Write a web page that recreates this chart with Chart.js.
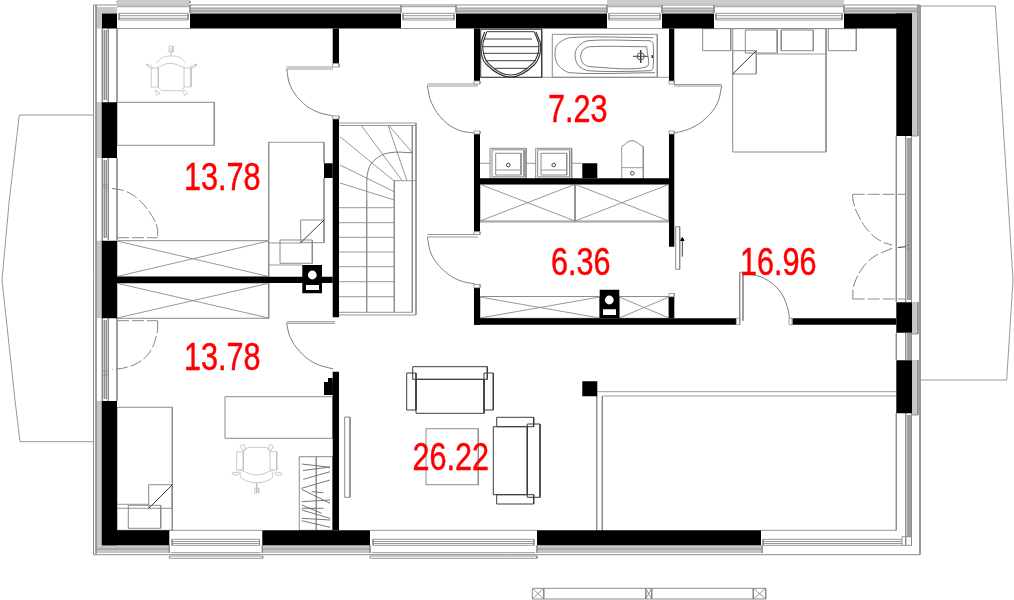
<!DOCTYPE html>
<html><head><meta charset="utf-8">
<style>html,body{margin:0;padding:0;background:#fff}canvas{display:block}</style>
<script src="https://cdn.jsdelivr.net/npm/chart.js@4"></script>
</head><body><canvas id="c" width="1014" height="600"></canvas>
<script>
// ---- data, in plan units (x right, y down) ----
const areaLabels=["13.78","13.78","7.23","6.36","16.96","26.22"];
const areaLabelX=[184,184,548,551,740,412.5];
const areaLabelY=[190,370,121.7,275,275,470];

const blackWalls=[
 [102,13.5,117,28.5],[456,13.5,607,28.5],[662,13.5,714,28.5],[844,13.5,912,28.5],
 [190,13.5,401,28.5],[896.3,13.5,912,136],[896.3,302.3,912,332.7],[896.3,360.3,912,413.3],
 [102,102.3,117,158],[102,240.7,117,318.3],[102,401,117,545.3],
 [102,530.3,169.3,545.3],[262.3,530.3,370,545.3],[537,530.3,761,545.3],
 [332.7,28.5,339,63.5],[332.7,119,339,317.3],[324,163.3,332.7,178],
 [332.7,371.7,339,530.3],[328,378,332.7,395],[324,382,332.7,395],
 [117,276.7,332.7,283],[302.3,265,322,293.3],
 [474,28.5,480,81],[474,134,480,231.7],[669,28.5,674.3,81],[669,134,674.3,246.7],
 [480,178.3,669,184.3],[582.3,163.3,597.3,178.3],
 [474,287.7,480,324.7],[474,318.3,736.3,324.7],[792.3,318.3,896.3,324.7],[669,296.7,674.3,318.3],
 [599.7,289.7,619.3,318.3],[582.3,381.3,597.3,396.3]
];
const whiteSlots=[[306,285,319,290],[603,309.3,616,315]];
const whiteHoleX=[312.3,609.3];
const whiteHoleY=[275,300];
const greyBands=[
 [96,7,102,545],[96,7,117,13.5],[190,8,401,13],[456,8,607,13],[662,8,714,13],[844,8,918,13],
 [912,8,918,136],[912,302,918,334],[912,360,918,415],
 [96,545.3,169,553],[262.3,545.3,370,553],[537,545.3,761,553]
];
const whiteBandGaps=[[96,28.5,102,102],[96,158,102,240.7],[96,318.3,102,401]];

const greyRects=[
 [93.5,5,920,554.7],
 [117,102.3,214.3,145.3],[117,240.7,268.7,276.7],[117,283,268.7,318.3],
 [280,240,312.3,263.3],[300.7,220,324,242.7],
 [702.7,28.7,730.7,50.7],[828.3,28.7,856.3,50.7],[745.3,30,777.3,53],[781.3,30,813.3,50.7],
 [732.7,28.7,826,152],[732.7,50.7,756.3,74],
 [117,407.3,172.3,530.3],[128.3,505.3,160.7,528.3],[148.7,484.7,172.3,508.3],
 [225,396.7,332.7,438.3],[299.3,456.7,332.7,530.3],
 [552.3,34.3,657.3,77.3],[490,148.3,526,178.3],[492,149.8,524,176.8],[495.7,153.3,521,175],
 [535.7,148.3,571.7,178.3],[537.7,149.8,569.7,176.8],[541,153.3,566.7,175],
 [480,184.3,575,221],[575,184.3,669,221],[480,296.5,599.7,318.3],[619.3,296.5,669,318.3],
 [675.7,226.7,679.7,269.3],[344.7,417,350,497.3],[426,428.7,478.3,484.7],
 [532.3,588.3,543.7,599],[543.7,588.3,645.7,599],[645.7,588.3,651.7,599],[651.7,588.3,753.3,599],[753.3,588.3,765.7,599]
];
const darkRects=[
 [480.7,29.3,541.7,77.3],
 [412.7,366.7,487.3,379.3],[416,379.3,484,413.3],[406.7,373,416,410],[484,373,493.3,410],
 [527.3,424,540,497.3],[493.3,426.7,527.3,494.7],[496.7,417.3,533.7,426.7],[496.7,494.7,533.7,504]
];
const greyLines=[
 [92.7,115,19.3,115,9.3,200,2,280,15,400,20,441.7,93,441.7],
 [920,6,995.3,6,1008,200,1013,280,1006.7,380,920,380],
 // interior wall faces and window frames
 [117,28.5,117,102],[117,158,117,240],[117,318,117,401],
 [896.3,136,896.3,302],[896.3,333,896.3,360],[896.3,413,896.3,530.3,761,530.3],
 [102.3,28.5,102.3,102],[104.3,30,104.3,100],[106.3,30,106.3,100],[108.3,28.5,108.3,102],
 [102.3,158,102.3,240],[104.3,160,104.3,238],[106.3,160,106.3,238],[108.3,158,108.3,240],
 [102.3,318,102.3,401],[104.3,320,104.3,399],[106.3,320,106.3,399],[108.3,318,108.3,401],
 [96,5,96,554],[102,102,102,158],[102,240,102,318],[102,401,102,545],
 [905.7,136,905.7,302],[908,138,908,300],[910,138,910,300],[911.5,136,911.5,302],
 [905.7,333,905.7,360],[908,333,908,360],[910,333,910,360],[911.5,333,911.5,360],
 [905.7,413,905.7,537],[908,415,908,537],[910,415,910,537],[911.5,413,911.5,545],
 [902,536.7,911.5,536.7,911.5,545.3,902,545.3,902,536.7],[905.7,536.7,905.7,545.3],
 [918,5,918,136],[918,302,918,334],[918,360,918,415],[912,136,918,136],[912,334,918,334],[912,415,918,415],
 [905.7,245,911.5,245],[905.7,249,911.5,249],[102.3,185,108.3,185],[102.3,188,108.3,188],[102.3,371,108.3,371],[102.3,375,108.3,375],
 // top windows
 [117,28.5,190,28.5],[119,13.3,188,13.3],[119,15.7,188,15.7],[119,18.3,188,18.3],[119,20,188,20],[117,6.7,190,6.7],[117,1,190,1,190,3,117,3,117,1],
 [401,28.5,456,28.5],[403,13.3,454,13.3],[403,15.7,454,15.7],[403,18.3,454,18.3],[403,20,454,20],[401,6.7,456,6.7],
 [607,28.5,662,28.5],[609,13.3,660,13.3],[609,15.7,660,15.7],[609,18.3,660,18.3],[609,20,660,20],[607,6.7,662,6.7],
 [714,28.5,844,28.5],[716,13.3,842,13.3],[716,15.7,842,15.7],[716,18.3,842,18.3],[716,20,842,20],[714,6.7,844,6.7],[607,1,844,1],[607,3,844,3],
 [119,13.3,119,20],[188,13.3,188,20],[403,13.3,403,20],[454,13.3,454,20],[609,13.3,609,20],[660,13.3,660,20],[716,13.3,716,20],[842,13.3,842,20],
 [190,5,190,13],[401,5,401,13],[456,5,456,13],[607,5,607,13],[662,5,662,13],[714,5,714,13],[844,5,844,13],
 [190,8,401,8],[456,8,607,8],[662,8,714,8],[844,8,918,8],[190,11,401,11],[456,11,607,11],[662,11,714,11],[844,11,918,11],
 // bottom windows
 [169.3,530.3,262.3,530.3],[172,539.3,259.5,539.3],[172,541.5,259.5,541.5],[172,543.5,259.5,543.5],[172,545.3,259.5,545.3],[171,552.7,260.5,552.7],[169.3,556,262.7,556,262.7,558.3,169.3,558.3,169.3,556],
 [370,530.3,537,530.3],[373,539.3,534,539.3],[373,541.5,534,541.5],[373,543.5,534,543.5],[373,545.3,534,545.3],[372,552.7,535,552.7],[370,556,537,556,537,558.3,370,558.3,370,556],
 [763,539.3,902,539.3],[763,541.5,902,541.5],[763,543.5,902,543.5],[763,545.3,902,545.3],[763,539.3,763,545.3],[762,545.3,762,553],
 [172,539.3,172,545.3],[259.5,539.3,259.5,545.3],[373,539.3,373,545.3],[534,539.3,534,545.3],[169.3,545.3,169.3,553],[262.3,545.3,262.3,553],[370,545.3,370,553],[537,545.3,537,553],
 [96,549,169,549],[262.3,549,370,549],[537,549,761,549],
 // door leaves
 [286.7,67,333,67],[286.7,69,333,69],[286.7,321.7,335,321.7],[286.7,323.3,335,323.3],
 [427.3,84,478,84],[427.3,86,478,86],[674,84.5,721.7,84.5],[674,86,721.7,86],
 [427.3,234.5,478,234.5],[427.3,237,478,237],[739.7,272.3,739.7,320.7],[743,272.3,743,320.7],[739.7,272.3,750,272.3],
 // stairs
 [339,123,416,123],[339,125.5,416,125.5],[412.3,125.5,412.3,312.3],[416,123,416,315],[339,312.3,412.3,312.3],[339,315,416,315],
 [394.3,180.7,416,180.7],[394.3,180.7,394.3,312.3],[366.7,200,366.7,312.3],
 [339,207.7,394.3,207.7],[339,222.7,394.3,222.7],[339,237.3,394.3,237.3],[339,252,394.3,252],[339,266.7,394.3,266.7],[339,281.7,394.3,281.7],[339,296.7,394.3,296.7],
 [340,136.7,395,181.7],[361.7,126,401.7,180],[388.3,126,406.7,180],[389.3,126,412.3,152.7],[340,165,394.3,191.7],[340,183,394.3,200],
 // wardrobes and closets
 [117,241,268.7,276.5],[117,276.5,268.7,241],[117,283.3,268.7,318],[117,318,268.7,283.3],
 [268.7,142.3,268.7,240],[268.7,142.3,324,142.3,324,163],[324,178,324,220],[268.7,243,300.7,243],[268.7,265,302.3,265],
 [480,184.3,575,221],[480,221,575,184.3],[575,184.3,669,221],[575,221,669,184.3],[480,222,669,222],
 [480,297,599.7,318],[480,318,599.7,297],[619.3,297,669,318],[619.3,318,669,297],
 // bath, counters, toilet, bed and rest
 [480,77.3,669,77.3],[480,163.3,490,163.3],[526,163.3,535.7,163.3],[571.7,163.3,582.3,163.3],[495.7,170,521,170],[541,170,566.7,170],
 [621.7,178.3,621.7,146.7],[643.3,146.7,643.3,178.3],[621.7,167.7,643.3,167.7],[756.3,54,826,54],
 [117,504.3,148.7,504.3],[117,508.3,148.7,508.3],[777.3,30,777.3,50.7],[781.3,30,781.3,50.7],
 [532.3,588.3,543.7,599],[532.3,599,543.7,588.3],[645.7,588.3,651.7,599],[645.7,599,651.7,588.3],[753.3,588.3,765.7,599],[753.3,599,765.7,588.3],
 [596.7,396,596.7,530.3],[602.3,396,602.3,530.3],[597.3,391.7,896.3,391.7],[602.3,396,896.3,396],[316.3,456.7,316.3,530.3]
];
const darkLines=[
 [300.7,242.7,324,220],[732.7,74,756.3,50.7],[148.7,508.3,172.3,484.7],
 [484,39,532,39],[483,46.7,539,46.7],[483,53.3,539,53.3],[486,60.7,536,60.7],[495,68.3,527,68.3],[487,31.7,534,31.7],
 [633,56.3,648,56.3],[640.7,50,640.7,63],[682.3,256.7,682.3,240],[652.3,55,652.3,58],
 [898,247.5,905.7,246.7]
];
const shoeStrokes=[
 [301.7,464,330,467.3],[303,470.5,330,467],[303.3,479.3,330,471.7],[301.7,488.3,330,480],[301.7,489.3,330,503.3],
 [311.7,491.7,323.3,492.7],[301.7,501.7,330,500],[301.7,505,321.7,513.3],[301.7,508.3,323.3,508.3],
 [301.7,510,330,518.3],[301.7,518.3,330,520],[301.7,520.7,330,527.3]
];
const lightLines=[
 // first chair
 [151.3,68,158.3,68,158.3,87,151.3,87,151.3,68],[184,68,191,68,191,87,184,87,184,68],
 [158.3,87,161.7,90.7,181.7,90.7,184,87],[171,56,171,48],[169,46,173,46,173,52,169,52,169,46],
 [146,64,152,66],[146,64,148,67,153,68],[190,67,196.7,64,196,66,190,69],[155,90,160,93,157,95.5,155,90],[184,90,187.5,93,185,95.5,183,92,184,90],
 // second chair
 [236.7,451.7,243.3,451.7,243.3,470,236.7,470,236.7,451.7],[270,451.7,276.7,451.7,276.7,470,270,470,270,451.7],
 [243.3,451.7,248.3,447.3,266.7,447.3,270,451.7],[256.7,483,256.7,493],[254.7,488,258.7,488,258.7,493,254.7,493,254.7,488],
 [232,473,239,472,238,475,233,475,232,473],[275,472,282,473,281,475.5,276,475,275,472],
 [240,446,244,444.5,246,449,243,450.5,240,446],[268,449,270,444.5,273.5,446,271,450.5,268,449]
];
const curvedLines=[
 [286.7,69,290,85,300,100,315,111,333,116],[286.7,323.3,290,336.7,300,351.7,315,363.3,333.3,369],
 [427.3,86,431.7,103.3,443.3,120,458.3,130,475,133.3],[721.7,86,717.3,103.3,705.7,118.3,690.7,128.3,674,133.3],
 [427.3,237.3,431.7,255,443.3,270,458.3,280,475,284],[747.3,273.3,764,278.3,779,290,787.3,306.7,789.7,320],
 [412.3,152.7,390,152.7,376.7,158.3,368.3,170,366.7,200],
 [621.7,146.7,631.7,140.7,643.3,146.7]
];
const tubeLines=[
 [653,37.7,570,37.7,557,45,555,55,558,65,570,72.7,655,72.7],
 [650,40.7,588,40.7,578,46.7,575,55,578,65,588,70.7,650,70.7,653,68,653,43,650,40.7],
 [646.7,46.7,590,46.7,583,50,580.7,56.7,583,63.3,590,66.7,646.7,66.7,646.7,46.7]
];
const showerRim=[[486.7,31.7,482.7,46.7,488.3,63.3,510.7,75,532.7,63.3,539,46.7,534.3,31.7],[484.5,32,480.8,47,486.5,64.5,510.7,77,534.5,64.5,540.8,47,536,32]];
const lightCurves=[
 [155.7,63.3,163.3,57.3,171,56,180,57.3,186,63.3],[156.7,68,170,63.3,185,68],
 [240,471.7,241.7,478.3,256.7,482.7,271.7,478.3,272.7,471.7],[240,470,256.7,475,273.3,470]
];
const dashedLines=[[117,237.7,157.7,237.7],[117,320.7,157.7,320.7],[852.7,194.3,905.7,194.3],[852.7,299,905.7,299]];
const dashedCurves=[
 [112,188.5,125,191,138,199,150,213,157,227,157.7,238],
 [157.7,321,157,333,150,351.7,138,362.7,125,367.7,112,369.5],
 [852.7,194.3,853,200,857.3,213.3,869,231.7,882,241.7,892,245],
 [892,248.3,874,256.7,862.3,268.3,854,285,852.7,299]
];
const drainX=[508.3,553.7,632.3];
const drainY=[165,165,173.3];
const tapX=[640.7];
const tapY=[56.3];
const arrowX=[682.3];
const arrowY=[239.5];
const jambs=[[332.7,63.5,339,67],[332.7,116,339,119],[474,81,480,84],[474,131,480,134],[669,81,674.3,84],[669,131,674.3,134],
 [474,231.7,480,234.5],[474,284.5,480,287.7],[669,293.5,674.3,296.7],[736.3,318.3,739.7,324.7],[789,318.3,792.3,324.7]];

// ---- drawing through the library's scales ----
const pts=f=>{const o=[];for(let i=0;i<f.length;i+=2)o.push({x:f[i],y:f[i+1]});return o;};
const box=r=>pts([r[0],r[1],r[2],r[1],r[2],r[3],r[0],r[3],r[0],r[1]]);
const line=(f,color,width,extra)=>Object.assign({data:pts(f),borderColor:color,borderWidth:width,showLine:true,pointRadius:0,fill:false,tension:0},extra||{});
const solid=(r,color)=>({data:box(r),borderColor:color,backgroundColor:color,borderWidth:0,showLine:true,pointRadius:0,fill:'shape',tension:0});
const dots=(xs,ys,r,fillC,edge,style)=>({data:xs.map((x,i)=>({x,y:ys[i]})),showLine:false,pointRadius:r,pointStyle:style||'circle',pointBackgroundColor:fillC,pointBorderColor:edge,pointBorderWidth:edge==='#ffffff'?0:1});
const GREY='#8c8c8c',LIGHT='#bdbdbd',DARK='#3c3c3c';
const paint=[];
greyBands.forEach(r=>paint.push(solid(r,'#c6c6c6')));
whiteBandGaps.forEach(r=>paint.push(solid(r,'#ffffff')));
greyRects.forEach(r=>paint.push(Object.assign(line([],GREY,1),{data:box(r)})));
greyLines.forEach(f=>paint.push(line(f,GREY,0.9)));
lightLines.forEach(f=>paint.push(line(f,LIGHT,0.8)));
lightCurves.forEach(f=>paint.push(line(f,LIGHT,0.8,{tension:0.4})));
curvedLines.forEach(f=>paint.push(line(f,'#707070',0.9,{tension:0.4})));
tubeLines.forEach(f=>paint.push(line(f,'#707070',0.9,{tension:0.3})));
dashedLines.forEach(f=>paint.push(line(f,'#8c8c8c',1,{borderDash:[12,3]})));
dashedCurves.forEach(f=>paint.push(line(f,'#808080',1,{tension:0.4,borderDash:[12,3]})));
darkRects.forEach(r=>paint.push(Object.assign(line([],DARK,1),{data:box(r)})));
darkLines.forEach(f=>paint.push(line(f,DARK,1)));
shoeStrokes.forEach(f=>paint.push(line(f,'#666666',0.9)));
showerRim.forEach(f=>paint.push(line(f,'#303030',1.1,{tension:0.4})));
blackWalls.forEach(r=>paint.push(solid(r,'#000000')));
whiteSlots.forEach(r=>paint.push(solid(r,'#ffffff')));
jambs.forEach(r=>paint.push(Object.assign(solid(r,'#ffffff'),{borderColor:GREY,borderWidth:0.8})));
paint.push(dots(whiteHoleX,whiteHoleY,4.4,'#ffffff','#ffffff'));
paint.push(dots(drainX,drainY,1.8,'#ffffff','#444444'));
paint.push(dots(tapX,tapY,3.6,'rgba(0,0,0,0)','#555555'));
paint.push(dots(arrowX,arrowY,2,'#000000','#000000','triangle'));

const areaText={id:'areaText',afterDatasetsDraw(ch){
 const c=ch.ctx,sx=ch.scales.x,sy=ch.scales.y;
 c.save();c.fillStyle='#ff0000';c.strokeStyle='#ff0000';c.lineWidth=0.5;c.textAlign='left';c.textBaseline='alphabetic';
 c.font='38.5px "Liberation Sans", Arial, sans-serif';
 areaLabels.forEach((t,i)=>{c.save();c.translate(sx.getPixelForValue(areaLabelX[i]),sy.getPixelForValue(areaLabelY[i]));c.scale(0.795,1);c.fillText(t,0,0);c.strokeText(t,0,0);c.restore();});
 c.restore();
}};
new Chart(document.getElementById('c'),{
 type:'scatter',
 data:{datasets:paint.slice().reverse()},
 options:{responsive:false,animation:false,devicePixelRatio:1,events:[],
  layout:{padding:0,autoPadding:false},
  plugins:{legend:{display:false},tooltip:{enabled:false},title:{display:false}},
  scales:{x:{type:'linear',min:0,max:1014,display:false},y:{type:'linear',min:0,max:600,reverse:true,display:false}}},
 plugins:[areaText]
});
</script></body></html>
